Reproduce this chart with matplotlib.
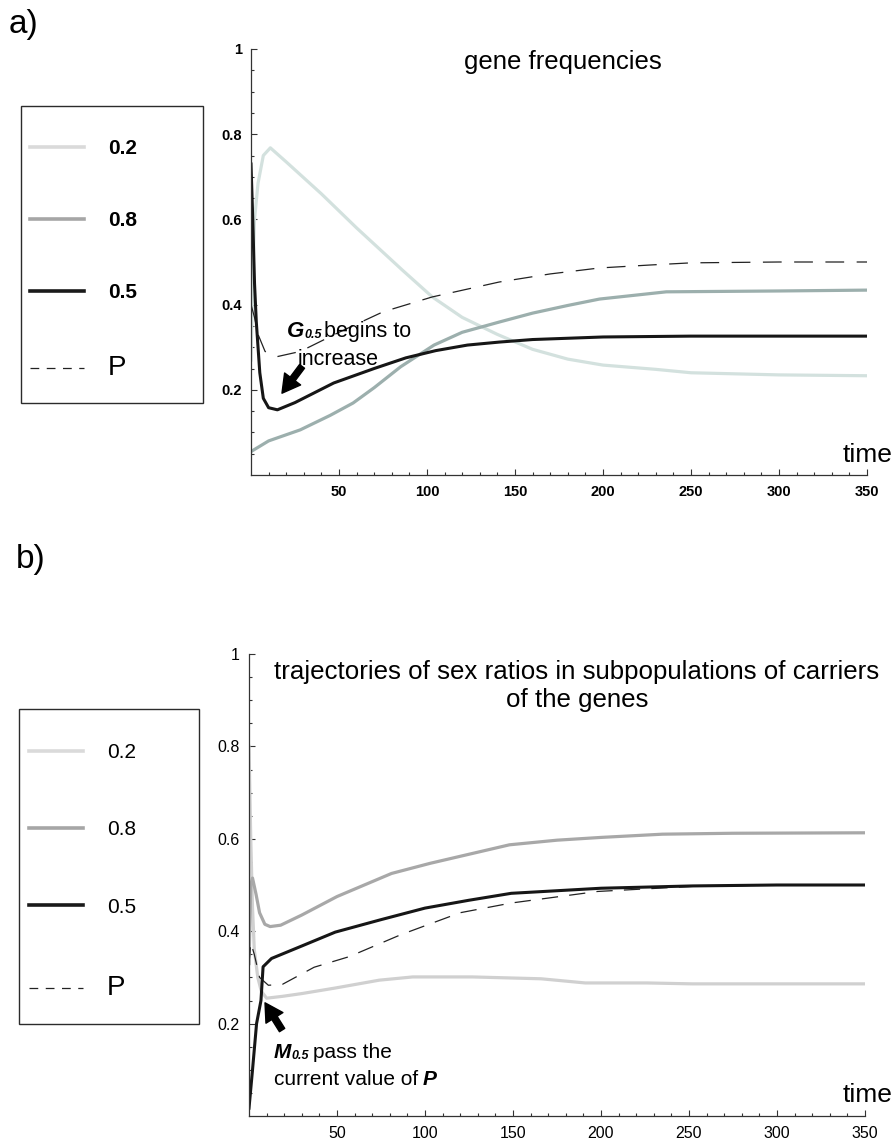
import matplotlib
matplotlib.use("Agg")
import matplotlib.pyplot as plt
from matplotlib.lines import Line2D
from matplotlib.patches import Rectangle
from matplotlib.transforms import IdentityTransform

plt.rcParams['font.family'] = ['Liberation Sans', 'DejaVu Sans']

W, H = 893, 1142

# ---- a) gene frequencies ----
t_gene_02 = [0, 1, 2, 4, 7, 11, 20, 40, 60, 86, 103, 120, 140, 160, 180, 200, 230, 250, 300, 350]
gene_02 = [0.27, 0.45, 0.60, 0.685, 0.75, 0.768, 0.735, 0.66, 0.58, 0.481, 0.418, 0.37, 0.33,
           0.295, 0.272, 0.258, 0.248, 0.24, 0.235, 0.233]

t_gene_08 = [0, 10, 28, 45, 58, 70, 85, 104, 120, 141, 160, 180, 198, 236, 300, 350]
gene_08 = [0.055, 0.08, 0.106, 0.14, 0.169, 0.205, 0.254, 0.305, 0.335, 0.359, 0.38, 0.398,
           0.413, 0.43, 0.432, 0.434]

t_gene_05 = [0, 1, 2, 3, 5, 7, 10, 15, 25, 47, 70, 88, 105, 123, 141, 160, 200, 250, 350]
gene_05 = [0.73, 0.6, 0.45, 0.36, 0.24, 0.18, 0.158, 0.153, 0.17, 0.216, 0.25, 0.275, 0.292,
           0.305, 0.312, 0.318, 0.324, 0.326, 0.326]

t_gene_p = [0, 2, 4, 8, 15, 28, 50, 75, 103, 141, 170, 198, 227, 250, 300, 350]
gene_p = [0.40, 0.37, 0.33, 0.29, 0.278, 0.29, 0.335, 0.383, 0.418, 0.453, 0.472, 0.486,
          0.493, 0.498, 0.5, 0.5]

# ---- b) sex ratios ----
t_sex_02 = [0, 1, 2, 3, 5, 7, 10, 19, 30, 49, 74, 93, 127, 166, 191, 226, 252, 300, 350]
sex_02 = [0.80, 0.6, 0.45, 0.36, 0.30, 0.27, 0.255, 0.259, 0.265, 0.277, 0.294, 0.301, 0.301,
          0.297, 0.288, 0.288, 0.286, 0.286, 0.286]

t_sex_08 = [0, 1, 2, 4, 6, 9, 12, 18, 30, 50, 81, 103, 148, 175, 200, 235, 275, 350]
sex_08 = [0.33, 0.50, 0.515, 0.48, 0.44, 0.415, 0.41, 0.413, 0.435, 0.475, 0.525, 0.547, 0.587,
          0.597, 0.603, 0.61, 0.612, 0.613]

t_sex_05 = [0, 2, 4.3, 6.8, 8, 12.8, 30, 49, 75, 100, 125, 149, 200, 252, 300, 350]
sex_05 = [0.017, 0.1, 0.2, 0.25, 0.323, 0.341, 0.368, 0.398, 0.425, 0.45, 0.467, 0.482, 0.493,
          0.498, 0.5, 0.5]

t_sex_p = [0, 1, 3, 6, 11, 19, 37, 57, 86, 120, 149, 198, 252, 300, 350]
sex_p = [0.33, 0.375, 0.35, 0.30, 0.283, 0.285, 0.322, 0.345, 0.392, 0.44, 0.461, 0.486, 0.497,
         0.5, 0.5]

legend_labels = ['0.2', '0.8', '0.5', 'P']
x_ticks = [50, 100, 150, 200, 250, 300, 350]
y_ticks = [0.2, 0.4, 0.6, 0.8, 1.0]
y_ticklabels = ['0.2', '0.4', '0.6', '0.8', '1']


def style_axes(ax, bold, size):
    ax.set_xlim(0, 350)
    ax.set_ylim(0, 1)
    for s in ['top', 'right']:
        ax.spines[s].set_visible(False)
    for s in ['left', 'bottom']:
        ax.spines[s].set_color('#333333')
        ax.spines[s].set_linewidth(0.9)
    ax.set_xticks(x_ticks)
    ax.set_xticks(range(10, 350, 10), minor=True)
    ax.set_yticks(y_ticks)
    ax.set_yticklabels(y_ticklabels)
    ax.set_yticks([i * 0.05 for i in range(1, 20)], minor=True)
    ax.tick_params(which='both', direction='in', color='#333333', width=0.8)
    ax.tick_params(which='major', length=4.5, labelsize=size)
    ax.tick_params(which='minor', length=2.5)
    ax.tick_params(axis='y', pad=6.5)
    ax.tick_params(axis='x', pad=7)
    for lab in ax.get_xticklabels() + ax.get_yticklabels():
        lab.set_fontweight('bold' if bold else 'normal')


def chain(ax, x, y, parts):
    r = ax.figure.canvas.get_renderer()
    px, py = ax.transData.transform((x, y))
    for s, kw, dx, dy in parts:
        t = ax.text(px + dx, py + dy, s, transform=IdentityTransform(),
                    ha='left', va='baseline', **kw)
        px = t.get_window_extent(r).x1


def legend_block(fig, colors, weight, x, ytop, spacing, box):
    handles = [Line2D([], [], color=c, lw=2.6) for c in colors]
    handles.append(Line2D([], [], color='#222222', lw=0.9, ls=(0, (7, 6))))
    leg = fig.legend(handles, legend_labels, loc='upper left',
                     bbox_to_anchor=(x / W, 1 - ytop / H), frameon=False,
                     borderpad=0, borderaxespad=0, handlelength=2.6,
                     handletextpad=1.15, labelspacing=spacing,
                     prop={'size': 15, 'weight': weight})
    leg.get_texts()[3].set_fontsize(20)
    leg.get_texts()[3].set_fontweight('normal')
    bx0, by0, bx1, by1 = box
    fig.add_artist(Rectangle((bx0 / W, 1 - by1 / H), (bx1 - bx0) / W, (by1 - by0) / H,
                             transform=fig.transFigure, fill=False,
                             ec='#2b2b2b', lw=1.0))


fig = plt.figure(figsize=(W / 100, H / 100), dpi=100)

# ---------- panel a ----------
ax1 = fig.add_axes([251 / W, 1 - 475 / H, 616 / W, 426 / H])
style_axes(ax1, True, 10.5)
ax1.plot(t_gene_02, gene_02, color='#d3e1de', lw=2.3, solid_joinstyle='round')
ax1.plot(t_gene_08, gene_08, color='#9cafad', lw=2.3, solid_joinstyle='round')
ax1.plot(t_gene_p, gene_p, color='#222222', lw=0.9, ls=(0, (15, 10)))
ax1.plot(t_gene_05, gene_05, color='#161616', lw=2.2, solid_joinstyle='round')

ax1.annotate('', xy=(17.6, 0.192), xytext=(29, 0.255),
             arrowprops=dict(arrowstyle='simple,head_width=0.9,head_length=0.8,tail_width=0.28',
                             fc='k', ec='k', mutation_scale=16, shrinkA=0, shrinkB=0))
chain(ax1, 20.5, 0.324, [
    ('G', dict(fontsize=16, fontweight='bold', fontstyle='italic'), 0, 0),
    ('0.5', dict(fontsize=9, fontweight='bold', fontstyle='italic'), 0, -1),
    ('begins to', dict(fontsize=15.5), 2, 0),
])
chain(ax1, 26.7, 0.258, [('increase', dict(fontsize=15.5), 0, 0)])

fig.text(563 / W, 1 - 62 / H, 'gene frequencies', ha='center', va='center', fontsize=18.5)
fig.text(0.999, 1 - 455 / H, 'time', ha='right', va='center', fontsize=19)
fig.text(9 / W, 1 - 24 / H, 'a)', ha='left', va='center', fontsize=24)

legend_block(fig, ['#dadada', '#a6a6a6', '#1a1a1a'], 'bold', 30, 139, 2.55,
             (21, 106, 203, 403))

# ---------- panel b ----------
ax2 = fig.add_axes([249 / W, 1 - 1116 / H, 616 / W, 462 / H])
style_axes(ax2, False, 11.5)
ax2.plot(t_sex_02, sex_02, color='#d0d0d0', lw=2.3, solid_joinstyle='round')
ax2.plot(t_sex_08, sex_08, color='#a8a8a8', lw=2.3, solid_joinstyle='round')
ax2.plot(t_sex_p, sex_p, color='#222222', lw=0.9, ls=(0, (13, 9)))
ax2.plot(t_sex_05, sex_05, color='#161616', lw=2.2, solid_joinstyle='round')

ax2.annotate('', xy=(9.1, 0.245), xytext=(18.8, 0.186),
             arrowprops=dict(arrowstyle='simple,head_width=0.9,head_length=0.8,tail_width=0.28',
                             fc='k', ec='k', mutation_scale=16, shrinkA=0, shrinkB=0))
chain(ax2, 14.2, 0.1255, [
    ('M', dict(fontsize=15, fontweight='bold', fontstyle='italic'), 0, 0),
    ('0.5', dict(fontsize=9, fontweight='bold', fontstyle='italic'), 0, -1),
    ('pass the', dict(fontsize=15), 4, 0),
])
chain(ax2, 14.2, 0.067, [
    ('current value of', dict(fontsize=15), 0, 0),
    ('P', dict(fontsize=15, fontweight='bold', fontstyle='italic'), 5, 0),
])

fig.text(577 / W, 1 - 686 / H,
         'trajectories of sex ratios in subpopulations of carriers\nof the genes',
         ha='center', va='center', fontsize=18.6, linespacing=1.2)
fig.text(0.999, 1 - 1095 / H, 'time', ha='right', va='center', fontsize=19)
fig.text(16 / W, 1 - 560 / H, 'b)', ha='left', va='center', fontsize=24)

legend_block(fig, ['#dadada', '#a6a6a6', '#1a1a1a'], 'normal', 29, 743, 2.8,
             (19, 709, 199, 1024))

fig.savefig('out.png', dpi=100)
